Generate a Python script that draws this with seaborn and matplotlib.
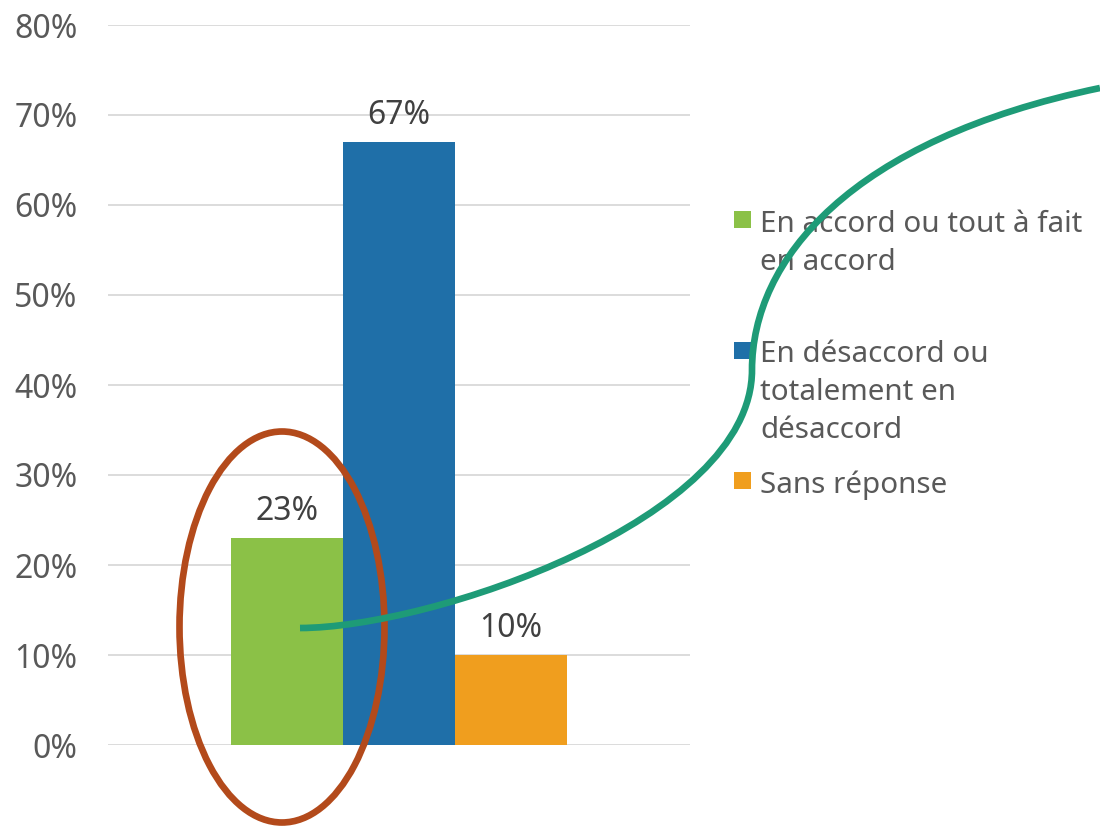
import matplotlib
matplotlib.use("Agg")
import matplotlib.pyplot as plt
import seaborn as sns
import pandas as pd
from matplotlib.patches import Ellipse, Rectangle, PathPatch
from matplotlib.path import Path
from matplotlib.transforms import Affine2D
from matplotlib.ticker import PercentFormatter, MultipleLocator

# ---- data ----
categories = ["En accord ou tout à fait\nen accord",
              "En désaccord ou\ntotalement en\ndésaccord",
              "Sans réponse"]
values = [0.23, 0.67, 0.10]
value_labels = ["23%", "67%", "10%"]
colors = ["#8BC147", "#1F6FA8", "#F09E1E"]

sns.set_theme(style="white")
plt.rcParams["font.family"] = ["Noto Sans", "DejaVu Sans"]

W, H = 1100, 827
fig = plt.figure(figsize=(W / 100, H / 100), dpi=100)
ax = fig.add_axes([108 / W, (H - 745) / H, 582 / W, 720 / H])

df = pd.DataFrame({"groupe": [""] * len(categories),
                   "cat": categories, "val": values})
sns.barplot(data=df, x="groupe", y="val", hue="cat", hue_order=categories,
            palette=colors, width=0.577, saturation=1, legend=False,
            linewidth=0, edgecolor="none", ax=ax)

ax.set_xlim(-0.5, 0.5)
ax.set_ylim(0, 0.8)
ax.yaxis.set_major_locator(MultipleLocator(0.1))
ax.yaxis.set_major_formatter(PercentFormatter(1.0, decimals=0))
ax.grid(axis="y", color="#D9D9D9", linewidth=1.3)
ax.set_axisbelow(True)
for s in ax.spines.values():
    s.set_visible(False)
ax.set_xlabel("")
ax.set_ylabel("")
ax.set_xticks([])
ax.tick_params(axis="y", length=0, pad=22, labelsize=23, labelcolor="#595959")

for cont, lab in zip(ax.containers, value_labels):
    ax.bar_label(cont, labels=[lab], padding=7, fontsize=23, color="#404040")

# pixel transform (origin top-left)
pix = Affine2D().scale(1 / W, -1 / H).translate(0, 1) + fig.transFigure

# legend (manual, Excel-like)
sq_tops = [211, 342, 472]
first_baselines = [232, 362, 493]
pitch = 38
for cat, col, top, base in zip(categories, colors, sq_tops, first_baselines):
    fig.add_artist(Rectangle((734, top + 17), 17, -17, transform=pix,
                             facecolor=col, edgecolor="none"))
    for k, line in enumerate(cat.split("\n")):
        fig.text(760, base + k * pitch, line, transform=pix, ha="left",
                 va="baseline", fontsize=21.3, color="#595959")

# annotation: ellipse
fig.add_artist(Ellipse((282, 627), 205, 391, transform=pix, fill=False,
                       edgecolor="#B34A1B", linewidth=4.8, zorder=5))

# annotation: curve
verts = [(300, 628), (430, 628), (752, 520), (752, 370),
         (752, 260), (850, 140), (1100, 88)]
codes = [Path.MOVETO] + [Path.CURVE4] * 6
fig.add_artist(PathPatch(Path(verts, codes), transform=pix, fill=False,
                         edgecolor="#1E9B77", linewidth=4.8, zorder=6,
                         capstyle="butt"))

fig.savefig("out.png", dpi=100)
